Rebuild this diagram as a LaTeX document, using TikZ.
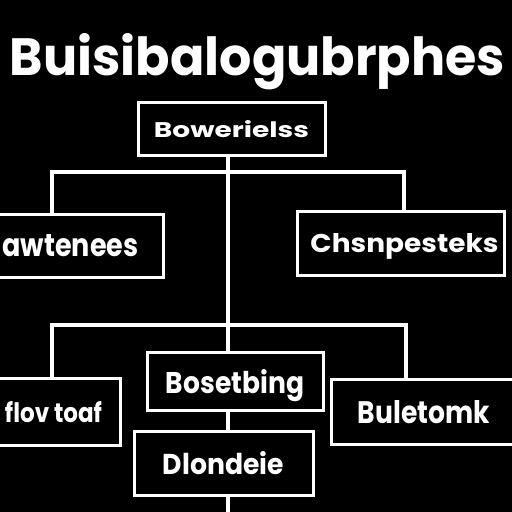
\documentclass[tikz,border=0pt]{standalone}
\usepackage{fontspec}
\usepackage{graphicx}
\setmainfont{Poppins}
\usetikzlibrary{positioning}

% texto ajustado a ancho y alto
\newcommand{\ajusta}[3]{\resizebox{#1pt}{#2pt}{\bfseries #3}}

\begin{document}
\begin{tikzpicture}[x=1pt, y=-1pt,
    caja/.style={draw=white, line width=3pt, text=white, inner sep=0pt, text depth=0pt},
    linea/.style={draw=white, line width=3.5pt}]
        \fill[black] (0,0) rectangle (512,512);
        \useasboundingbox (0,0) rectangle (512,512);

        \node[anchor=base, text=white, inner sep=0pt] (titulo) at (257.5,75) {\ajusta{495}{42}{Buisibalogubrphes}};

        \node[caja, minimum width=187pt, minimum height=53pt] (b0) at (231.5,128.5) {\ajusta{155}{17}{Bowerielss}};
        \node[caja, minimum width=165pt, minimum height=63pt] (b1) at (80.5,245.5) {\ajusta{136}{22}{awtenees}\kern20pt};
        \node[caja, minimum width=207pt, minimum height=64pt] (b2) at (400.5,243) {\kern8pt\ajusta{188}{19}{Chsnpesteks}};
        \node[caja, minimum width=176pt, minimum height=58pt] (b3) at (235,381) {\ajusta{138}{24}{Bosetbing}};
        \node[caja, below=18pt of b3, xshift=-11.5pt, minimum width=179pt, minimum height=64pt] (b4) {\ajusta{121}{23}{Dlondeie}};
        \node[caja, minimum width=125pt, minimum height=67pt] (b5) at (57.5,411.5) {\ajusta{97}{21}{flov toaf}\kern8pt};
        \node[caja, minimum width=186pt, minimum height=65pt] (b6) at (424,411.5) {\ajusta{132}{23}{Buletomk}};

        % puntos de union
        \coordinate (j1) at (228,172);
        \coordinate (h1l) at (52,172);
        \coordinate (h1r) at (404,172);
        \coordinate (h2l) at (52,325);
        \coordinate (h2r) at (406,325);
        \coordinate (fin) at (228,512);

        \draw[linea] (j1 |- b0.south) -- (j1 |- b3.north);
        \draw[linea] (h1l |- b1.north) -- (h1l) -- (h1r) -- (h1r |- b2.north);
        \draw[linea] (h2l |- b5.north) -- (h2l) -- (h2r) -- (h2r |- b6.north);
        \draw[linea] (j1 |- b3.south) -- (j1 |- b4.north);
        \draw[linea] (j1 |- b4.south) -- (fin);
    \end{tikzpicture}
\end{document}
